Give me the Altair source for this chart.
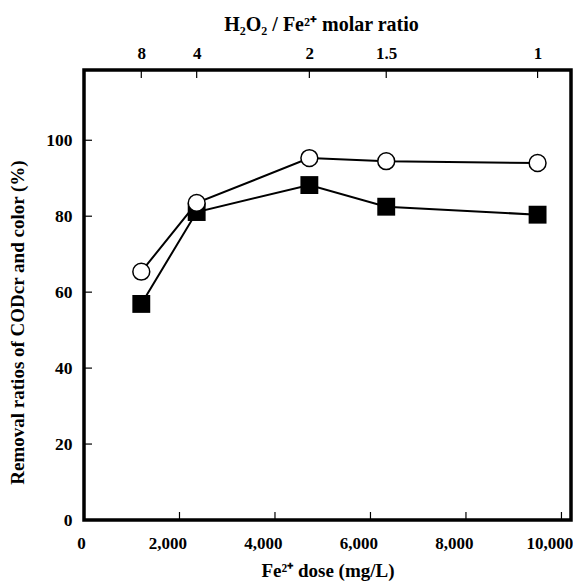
import altair as alt
import pandas as pd

# Data
fe_dose = [1200, 2360, 4720, 6330, 9500]
molar_ratio_labels = ["8", "4", "2", "1.5", "1"]
color_removal = [65.4, 83.5, 95.3, 94.5, 94.0]   # open circles
cod_removal = [56.9, 81.1, 88.2, 82.5, 80.4]     # filled squares

x_ticks = [0, 2000, 4000, 6000, 8000, 10000]
y_ticks = [0, 20, 40, 60, 80, 100]

X_DOMAIN = [0, 10200]
Y_DOMAIN = [0, 118.5]
FONT = "Liberation Serif"
W, H = 487, 450
TICK = 8

df = pd.DataFrame({
    "dose": fe_dose * 2,
    "removal": color_removal + cod_removal,
    "series": ["Color"] * len(fe_dose) + ["CODcr"] * len(fe_dose),
})
df_top = pd.DataFrame({"dose": fe_dose, "ratio": molar_ratio_labels})
df_xt = pd.DataFrame({"dose": x_ticks[1:]})
df_yt = pd.DataFrame({"removal": y_ticks[1:]})

xscale = alt.Scale(domain=X_DOMAIN, nice=False, zero=False)
yscale = alt.Scale(domain=Y_DOMAIN, nice=False)

x_axis = alt.Axis(
    values=x_ticks, format=",d", title="Fe\u00b2\u207a dose (mg/L)",
    ticks=False, domain=False, grid=False, labelPadding=15,
    labelOffset=alt.ExprRef(expr="datum.value == 0 ? -3 : -12"),
    labelFont=FONT, labelFontSize=17, labelFontWeight="bold", labelColor="black",
    titleFont=FONT, titleFontSize=19, titleFontWeight="bold", titleColor="black",
    titlePadding=10, labelFlush=False,
)
y_axis = alt.Axis(
    values=y_ticks, title="Removal ratios of CODcr and color (%)",
    ticks=False, domain=False, grid=False, labelPadding=12,
    labelFont=FONT, labelFontSize=17.5, labelFontWeight="bold", labelColor="black",
    titleFont=FONT, titleFontSize=19, titleFontWeight="bold", titleColor="black",
    titlePadding=18, titleY=252,
)
X = alt.X("dose:Q", scale=xscale, axis=x_axis)
Y = alt.Y("removal:Q", scale=yscale, axis=y_axis)

base = alt.Chart(df)
lines = base.mark_line(color="black", strokeWidth=2).encode(x=X, y=Y, detail="series:N")
squares = base.transform_filter(alt.datum.series == "CODcr").mark_point(
    shape="square", filled=True, color="black", size=320, opacity=1
).encode(x=X, y=Y)
circles = base.transform_filter(alt.datum.series == "Color").mark_point(
    shape="circle", filled=True, fill="white", stroke="black", strokeWidth=1.5, size=285, opacity=1
).encode(x=X, y=Y)

bottom_ticks = alt.Chart(df_xt).mark_rule(color="black", strokeWidth=1.2).encode(
    x=X, y=alt.value(H), y2=alt.value(H - TICK)
)
left_ticks = alt.Chart(df_yt).mark_rule(color="black", strokeWidth=1.2).encode(
    y=Y, x=alt.value(0), x2=alt.value(TICK)
)

main = alt.layer(lines, bottom_ticks, left_ticks, squares, circles)

label_expr = " : ".join(
    f"datum.value == {d} ? '{r}'" for d, r in zip(fe_dose, molar_ratio_labels)
) + " : ''"

top = alt.Chart(df_top).mark_rule(color="black", strokeWidth=1.2).encode(
    x=alt.X(
        "dose:Q", scale=xscale,
        axis=alt.Axis(
            orient="top", values=fe_dose, labelExpr=label_expr,
            title="H\u2082O\u2082 / Fe\u00b2\u207a molar ratio",
            ticks=False, domain=False, grid=False, labelPadding=8,
            labelFont=FONT, labelFontSize=17, labelFontWeight="bold", labelColor="black",
            titleFont=FONT, titleFontSize=20, titleFontWeight="bold", titleColor="black",
            titlePadding=10, labelFlush=False, titleX=237,
        ),
    ),
    y=alt.value(0), y2=alt.value(TICK),
)

chart = alt.layer(main, top).resolve_scale(x="independent").properties(
    width=W, height=H,
    autosize=alt.AutoSizeParams(type="none"),
    padding={"left": 84, "top": 70, "right": 2, "bottom": 66},
    background="white",
).configure_view(stroke="black", strokeWidth=3.5)

chart.save("out.html", embed_options={"renderer": "svg", "actions": False})
